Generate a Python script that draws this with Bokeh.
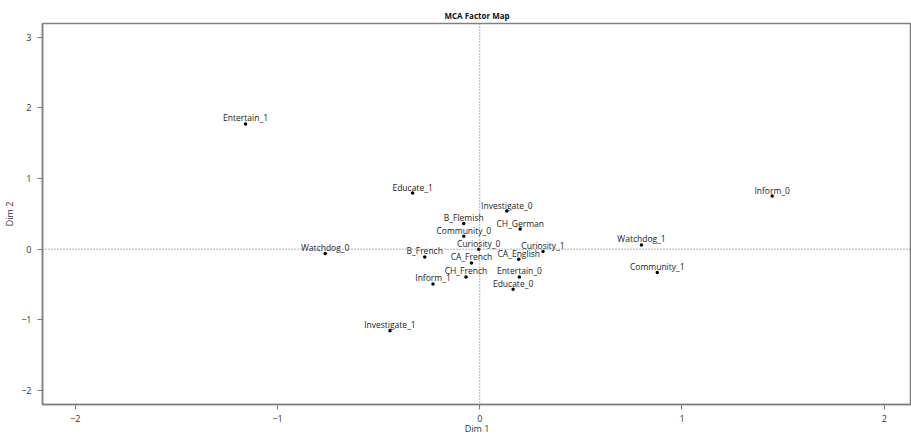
from bokeh.plotting import figure
from bokeh.models import ColumnDataSource, Range1d, FixedTicker, Span
from bokeh.core.properties import value
from bokeh.embed import file_html
from bokeh.resources import INLINE

labels = ["Entertain_1", "Educate_1", "Inform_0", "Investigate_0", "B_Flemish",
          "CH_German", "Community_0", "Curiosity_0", "Curiosity_1", "B_French",
          "CA_English", "CA_French", "CH_French", "Entertain_0", "Inform_1",
          "Educate_0", "Watchdog_0", "Investigate_1", "Watchdog_1", "Community_1"]
dim1 = [-1.158, -0.332, 1.446, 0.134, -0.079,
        0.200, -0.079, -0.005, 0.313, -0.272,
        0.193, -0.041, -0.068, 0.196, -0.231,
        0.165, -0.764, -0.444, 0.800, 0.878]
dim2 = [1.773, 0.794, 0.752, 0.539, 0.364,
        0.284, 0.184, 0.000, -0.033, -0.109,
        -0.142, -0.194, -0.392, -0.392, -0.492,
        -0.567, -0.061, -1.153, 0.061, -0.331]
x_ticks = [-2, -1, 0, 1, 2]
y_ticks = [-2, -1, 0, 1, 2, 3]

FONT = "Open Sans"
GRAY = "#808080"

src = ColumnDataSource(dict(x=dim1, y=dim2, label=labels))

p = figure(width=911, height=441, output_backend="svg", toolbar_location=None,
           x_range=Range1d(-2.162, 2.135), y_range=Range1d(-2.198, 3.194),
           min_border_left=42, min_border_right=0, min_border_top=23, min_border_bottom=37,
           title="MCA Factor Map")
p.title.align = "center"
p.title.vertical_align = "top"
p.title.text_font = FONT
p.title.text_font_size = "8px"
p.title.text_font_style = "bold"
p.title.text_color = "#111111"
p.title.standoff = 2
p.title.offset = 3

p.xgrid.visible = False
p.ygrid.visible = False
p.outline_line_color = GRAY
p.outline_line_width = 1.5

for ax, ticks, lab in ((p.xaxis[0], x_ticks, "Dim 1"), (p.yaxis[0], y_ticks, "Dim 2")):
    ax.ticker = FixedTicker(ticks=ticks)
    ax.minor_tick_line_color = None
    ax.major_tick_in = 0
    ax.major_tick_out = 5
    ax.major_tick_line_color = GRAY
    ax.axis_line_color = GRAY
    ax.axis_line_width = 1.5
    ax.major_label_text_font = FONT
    ax.major_label_text_font_size = "9px"
    ax.major_label_text_color = "#333333"
    ax.axis_label = lab
    ax.axis_label_text_font = FONT
    ax.axis_label_text_font_size = "9px"
    ax.axis_label_text_font_style = "normal"
    ax.axis_label_text_color = "#333333"
p.xaxis.major_label_standoff = 5
p.yaxis.major_label_standoff = 6
p.xaxis.axis_label_standoff = -3
p.yaxis.axis_label_standoff = 2

p.add_layout(Span(location=0, dimension="height", line_color="#666666",
                  line_dash="1 2", line_width=1))
p.add_layout(Span(location=0, dimension="width", line_color="#666666",
                  line_dash="1 2", line_width=1))

p.scatter("x", "y", source=src, size=3.5, color="black", line_color=None)
p.text("x", "y", text="label", source=src, text_align="center",
       text_baseline="alphabetic", y_offset=-6, text_font=value(FONT),
       text_font_size="8.5px", text_color="#222222")

open("out.html", "w").write(file_html(p, INLINE))
